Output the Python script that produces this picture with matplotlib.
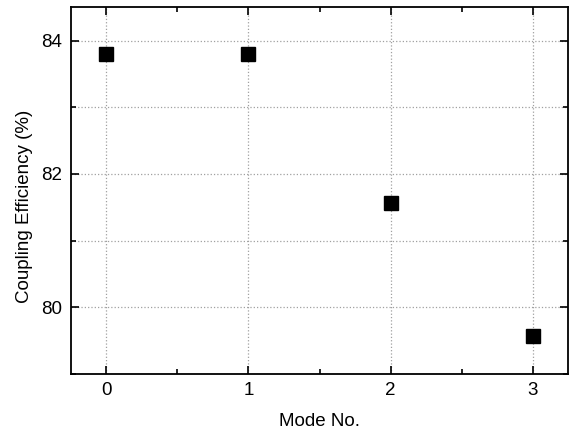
import matplotlib
matplotlib.use("Agg")
import matplotlib.pyplot as plt
from matplotlib.ticker import MultipleLocator

plt.rcParams['font.family'] = ['Liberation Sans', 'DejaVu Sans']

# Data
mode_no = [0, 1, 2, 3]
efficiency = [83.8, 83.8, 81.565, 79.575]

fig = plt.figure(figsize=(5.69, 4.34), dpi=100)
ax = fig.add_axes([0.1243, 0.1382, 0.8745, 0.845])

ax.plot(mode_no, efficiency, 's', color='black', markersize=10, zorder=3)

ax.set_xlim(-0.25, 3.25)
ax.set_ylim(79, 84.5)
ax.xaxis.set_major_locator(MultipleLocator(1))
ax.xaxis.set_minor_locator(MultipleLocator(0.5))
ax.yaxis.set_major_locator(MultipleLocator(2))
ax.yaxis.set_minor_locator(MultipleLocator(1))

ax.grid(which='major', axis='x', linestyle=':', color='#a0a0a0', linewidth=0.9)
ax.grid(which='both', axis='y', linestyle=':', color='#a0a0a0', linewidth=0.9)
ax.set_axisbelow(True)

ax.tick_params(which='both', direction='in', top=True, right=True,
               labelsize=13.5, width=1.2)
ax.tick_params(which='major', length=6, pad=6)
ax.tick_params(which='minor', length=3.5)
for s in ax.spines.values():
    s.set_linewidth(1.3)

ax.set_xlabel('Mode No.', fontsize=13.5, labelpad=10)
ax.set_ylabel('Coupling Efficiency (%)', fontsize=13.5)
ax.yaxis.set_label_coords(-0.076, 0.458)

fig.savefig('out.png', dpi=100)
